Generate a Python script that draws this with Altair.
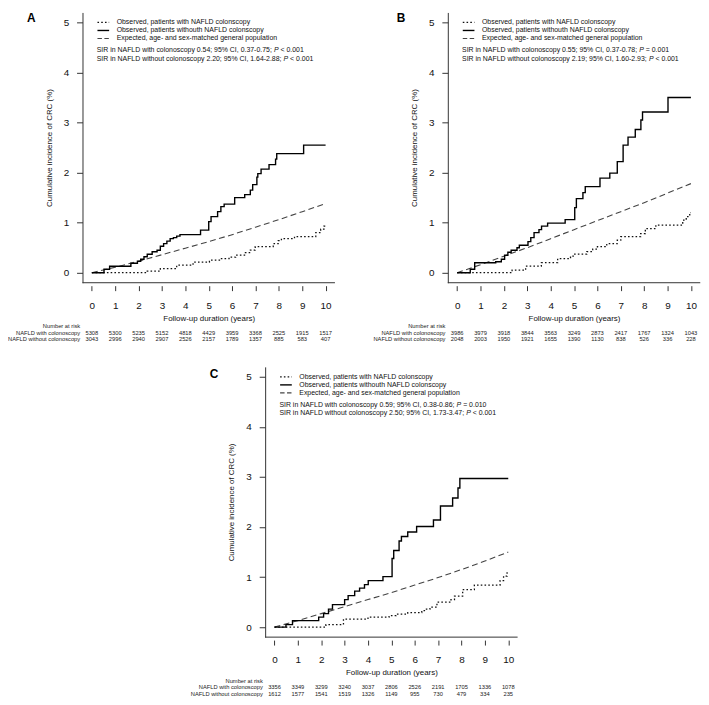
import altair as alt
import pandas as pd

FONT = "Liberation Sans"

# ---------------- data ----------------
years = list(range(11))

legend_labels = [
    "Observed, patients with NAFLD colonscopy",
    "Observed, patients withouth NAFLD colonscopy",
    "Expected, age- and sex-matched general population",
]
risk_row_labels = ["NAFLD with colonoscopy", "NAFLD without colonoscopy"]

# Panel A
A_with_x = [0, 2.37, 2.93, 3.63, 4.33, 5.03, 5.5, 5.87, 6.15, 6.57, 6.78, 6.99, 7.76, 7.97, 8.11, 8.67, 9.58, 9.79, 9.93, 10.0]
A_with_y = [0, 0.03, 0.08, 0.15, 0.21, 0.25, 0.28, 0.31, 0.35, 0.40, 0.45, 0.52, 0.58, 0.64, 0.68, 0.72, 0.80, 0.87, 0.93, 0.93]
A_without_x = [0, 0.52, 0.76, 1.67, 1.95, 2.09, 2.23, 2.37, 2.58, 2.79, 2.93, 3.07, 3.21, 3.35, 3.49, 3.63, 3.77, 4.65, 5.0, 5.1, 5.38, 5.52, 5.66, 6.11, 6.54, 6.78, 6.88, 7.06, 7.1, 7.24, 7.58, 7.86, 7.91, 9.06, 10.0]
A_without_y = [0, 0.07, 0.13, 0.19, 0.23, 0.27, 0.32, 0.37, 0.42, 0.45, 0.53, 0.58, 0.63, 0.68, 0.70, 0.73, 0.76, 0.85, 1.02, 1.12, 1.22, 1.32, 1.37, 1.50, 1.56, 1.65, 1.76, 1.91, 1.98, 2.07, 2.16, 2.27, 2.38, 2.55, 2.55]
A_expected = [0, 0.11, 0.23, 0.36, 0.49, 0.62, 0.76, 0.91, 1.06, 1.22, 1.38]
A_risk_with = [5308, 5300, 5235, 5152, 4818, 4429, 3959, 3368, 2525, 1915, 1517]
A_risk_without = [3043, 2996, 2940, 2907, 2526, 2157, 1789, 1357, 885, 583, 407]
A_sir = [
    "SIR in NAFLD with colonoscopy 0.54; 95% CI, 0.37-0.75; P < 0.001",
    "SIR in NAFLD without colonoscopy 2.20; 95% CI, 1.64-2.88; P < 0.001",
]

# Panel B
B_with_x = [0, 2.35, 2.93, 3.6, 4.3, 4.85, 5.0, 5.55, 5.8, 6.0, 6.4, 6.85, 7.0, 7.85, 8.05, 8.5, 9.65, 9.8, 9.95, 10.0]
B_with_y = [0, 0.05, 0.13, 0.2, 0.28, 0.33, 0.37, 0.42, 0.47, 0.52, 0.58, 0.65, 0.72, 0.78, 0.88, 0.95, 1.05, 1.12, 1.2, 1.2]
B_without_x = [0, 0.56, 0.75, 1.65, 1.89, 2.03, 2.17, 2.31, 2.56, 2.66, 3.03, 3.15, 3.29, 3.5, 3.61, 3.87, 4.62, 5.03, 5.1, 5.38, 5.48, 6.11, 6.53, 6.85, 7.1, 7.31, 7.62, 7.86, 7.93, 9.02, 10.0]
B_without_y = [0, 0.07, 0.2, 0.22, 0.27, 0.35, 0.41, 0.45, 0.5, 0.55, 0.62, 0.7, 0.8, 0.86, 0.93, 0.99, 1.06, 1.3, 1.48, 1.6, 1.72, 1.89, 1.99, 2.22, 2.55, 2.71, 2.86, 3.05, 3.21, 3.5, 3.5]
B_expected = [0, 0.16, 0.33, 0.5, 0.68, 0.86, 1.04, 1.22, 1.4, 1.59, 1.78]
B_risk_with = [3986, 3979, 3918, 3844, 3563, 3249, 2873, 2417, 1767, 1324, 1043]
B_risk_without = [2048, 2003, 1950, 1921, 1655, 1390, 1130, 838, 526, 336, 228]
B_sir = [
    "SIR in NAFLD with colonoscopy 0.55; 95% CI, 0.37-0.78; P = 0.001",
    "SIR in NAFLD without colonoscopy 2.19; 95% CI, 1.60-2.93; P < 0.001",
]

# Panel C
C_with_x = [0, 2.2, 2.95, 4.0, 4.9, 5.2, 5.7, 6.3, 6.45, 6.65, 6.95, 7.55, 7.7, 8.05, 8.55, 9.65, 9.8, 9.95, 10.0]
C_with_y = [0, 0.05, 0.16, 0.2, 0.23, 0.26, 0.29, 0.33, 0.36, 0.4, 0.5, 0.55, 0.62, 0.75, 0.84, 0.93, 1.02, 1.1, 1.1]
C_without_x = [0, 0.49, 0.77, 1.89, 2.1, 2.31, 2.48, 3.0, 3.15, 3.43, 3.64, 3.85, 4.01, 4.64, 5.03, 5.1, 5.33, 5.43, 5.7, 6.08, 6.8, 7.1, 7.62, 7.85, 7.93, 10.0]
C_without_y = [0, 0.05, 0.13, 0.2, 0.27, 0.36, 0.45, 0.55, 0.63, 0.72, 0.78, 0.85, 0.93, 1.01, 1.37, 1.53, 1.72, 1.81, 1.9, 2.01, 2.14, 2.42, 2.58, 2.78, 2.97, 2.97]
C_expected = [0, 0.13, 0.27, 0.41, 0.55, 0.69, 0.84, 0.99, 1.15, 1.32, 1.5]
C_risk_with = [3356, 3349, 3299, 3240, 3037, 2806, 2526, 2191, 1705, 1336, 1078]
C_risk_without = [1612, 1577, 1541, 1519, 1326, 1149, 955, 730, 479, 334, 235]
C_sir = [
    "SIR in NAFLD with colonoscopy 0.59; 95% CI, 0.38-0.86; P = 0.010",
    "SIR in NAFLD without colonoscopy 2.50; 95% CI, 1.73-3.47; P < 0.001",
]

# ---------------- layout / style ----------------
W, H = 255, 273
XMIN, XMAX = -0.4, 10.4
PPU = W / (XMAX - XMIN)

DOT = [1.6, 2.2]
DASH = [6, 3.5]

ARIAL = {" ": 278, ".": 278, ",": 278, ";": 278, "%": 889, "-": 333, "<": 584, "=": 584,
         "S": 667, "I": 278, "R": 722, "N": 722, "A": 667, "F": 611, "L": 556, "D": 722,
         "C": 722, "P": 667, "a": 556, "c": 500, "d": 556, "e": 556, "h": 556, "i": 222,
         "l": 222, "n": 556, "o": 556, "p": 556, "s": 500, "t": 278, "u": 556, "w": 722,
         "y": 500}


def tw(s, size):
    return sum(ARIAL.get(c, 556) for c in s) / 1000.0 * size


x_enc = alt.X(
    "x:Q",
    scale=alt.Scale(domain=[XMIN, XMAX], nice=False, zero=False),
    axis=alt.Axis(values=years, title="Follow-up duration (years)", domain=False, offset=3,
                  tickSize=5, tickColor="#333", labelFontSize=10, labelPadding=10,
                  labelColor="#111", titleFontSize=8, titleFontWeight="normal",
                  titlePadding=4, titleColor="#111", grid=False, labelFlush=False,
                  labelOverlap=False, format="d"),
)
y_enc = alt.Y(
    "y:Q",
    scale=alt.Scale(domain=[-0.2, 5.2], nice=False, zero=False),
    axis=alt.Axis(values=[0, 1, 2, 3, 4, 5], title="Cumulative incidence of CRC (%)",
                  domainColor="#333", tickSize=6, tickColor="#333", labelFontSize=10,
                  labelPadding=8, labelColor="#111", titleFontSize=8,
                  titleFontWeight="normal", titlePadding=10, titleColor="#111",
                  grid=False, format="d"),
)


def panel(letter, ldx, ldy, wx, wy, wox, woy, expv, rwith, rwithout, sir):
    layers = []
    # axis bottom line
    layers.append(alt.Chart(pd.DataFrame({"a": [0]})).mark_rule(color="#333", strokeWidth=1)
                  .encode(x=alt.value(0), x2=alt.value(W), y=alt.value(H)))
    # curves
    layers.append(alt.Chart(pd.DataFrame({"x": years, "y": expv})).mark_line(
        color="#444", strokeWidth=1.1, strokeDash=DASH).encode(x=x_enc, y=y_enc))
    layers.append(alt.Chart(pd.DataFrame({"x": wx, "y": wy})).mark_line(
        interpolate="step-after", color="#111", strokeWidth=1.3, strokeDash=DOT).encode(x=x_enc, y=y_enc))
    layers.append(alt.Chart(pd.DataFrame({"x": wox, "y": woy})).mark_line(
        interpolate="step-after", color="#000", strokeWidth=1.4).encode(x=x_enc, y=y_enc))
    # legend samples
    rows = [5.0, 4.84, 4.68]
    styles = [dict(color="#111", strokeWidth=1.3, strokeDash=DOT),
              dict(color="#000", strokeWidth=1.4),
              dict(color="#444", strokeWidth=1.1, strokeDash=[4.5, 2.5])]
    for r, st in zip(rows, styles):
        layers.append(alt.Chart(pd.DataFrame({"x": [0.24], "x2": [0.74], "y": [r]}))
                      .mark_rule(**st).encode(x=x_enc, x2="x2:Q", y=y_enc))
    layers.append(alt.Chart(pd.DataFrame({"x": [1.06] * 3, "y": rows, "t": legend_labels}))
                  .mark_text(align="left", baseline="middle", fontSize=7, font=FONT, color="#111")
                  .encode(x=x_enc, y=y_enc, text="t:N"))
    # SIR lines with italic P
    x0 = 0.21
    norm_rows, ital_rows = [], []
    for s, yy in zip(sir, [4.44, 4.27]):
        idx = s.index(" P ") + 1
        prefix = s[:idx]
        rest = s[idx + 2:]
        norm_rows.append({"x": x0, "y": yy, "t": prefix.rstrip()})
        ital_rows.append({"x": x0 + tw(prefix, 7) / PPU, "y": yy, "t": "P"})
        norm_rows.append({"x": x0 + tw(prefix + "P ", 7) / PPU, "y": yy, "t": rest})
    layers.append(alt.Chart(pd.DataFrame(norm_rows))
                  .mark_text(align="left", baseline="middle", fontSize=7, font=FONT, color="#111")
                  .encode(x=x_enc, y=y_enc, text="t:N"))
    layers.append(alt.Chart(pd.DataFrame(ital_rows))
                  .mark_text(align="left", baseline="middle", fontSize=7, font=FONT, color="#111",
                             fontStyle="italic")
                  .encode(x=x_enc, y=y_enc, text="t:N"))
    # number at risk table
    layers.append(alt.Chart(pd.DataFrame({"x": [-0.5], "t": ["Number at risk"]}))
                  .mark_text(align="right", baseline="middle", fontSize=5.8, font=FONT, color="#222")
                  .encode(x=x_enc, y=alt.value(H + 44), text="t:N"))
    for off, lab, vals in [(50.6, risk_row_labels[0], rwith), (57.2, risk_row_labels[1], rwithout)]:
        layers.append(alt.Chart(pd.DataFrame({"x": [-0.5], "t": [lab]}))
                      .mark_text(align="right", baseline="middle", fontSize=5.8, font=FONT, color="#222")
                      .encode(x=x_enc, y=alt.value(H + off), text="t:N"))
        layers.append(alt.Chart(pd.DataFrame({"x": years, "t": [str(v) for v in vals]}))
                      .mark_text(align="center", baseline="middle", fontSize=5.8, font=FONT, color="#222")
                      .encode(x=x_enc, y=alt.value(H + off), text="t:N"))
    # panel letter
    layers.append(alt.Chart(pd.DataFrame({"t": [letter]}))
                  .mark_text(align="left", baseline="middle", fontSize=12, fontWeight="bold",
                             font=FONT, color="#000")
                  .encode(x=alt.value(ldx), y=alt.value(ldy), text="t:N"))
    return alt.layer(*layers).properties(width=W, height=H)


pA = panel("A", -56, 5.2, A_with_x, A_with_y, A_without_x, A_without_y, A_expected,
           A_risk_with, A_risk_without, A_sir)
pB = panel("B", -51.5, 5.2, B_with_x, B_with_y, B_without_x, B_without_y, B_expected,
           B_risk_with, B_risk_without, B_sir)
pC = panel("C", -56, 6.8, C_with_x, C_with_y, C_without_x, C_without_y, C_expected,
           C_risk_with, C_risk_without, C_sir)

row1 = alt.hconcat(pA, pB, spacing=37)
chart = (
    alt.vconcat(row1, pC, spacing=25, center=True)
    .properties(padding=0, background="white")
    .configure(font=FONT)
    .configure_view(stroke=None)
)

chart.save("out.html", embed_options={"renderer": "svg", "actions": False})
